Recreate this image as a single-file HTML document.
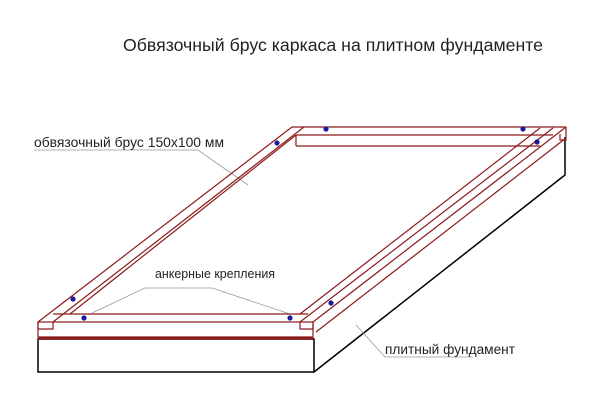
<!DOCTYPE html>
<html><head><meta charset="utf-8"><style>
html,body{margin:0;padding:0;background:#fff;width:600px;height:416px;overflow:hidden}
svg{display:block}
text{font-family:"Liberation Sans",sans-serif;fill:#222}
</style></head><body>
<svg width="600" height="416" viewBox="0 0 600 416">
<g stroke="#000" stroke-width="1.5" fill="none">
<rect x="38" y="339" width="276" height="33" fill="#fff"/>
<polyline points="314,372 565,175 565,137"/>
</g>
<g stroke="#999" stroke-width="0.8" fill="none">
<polyline points="34,150 198,150 248,185"/>
<polyline points="92,313 145,288 212,288 290,314"/>
<polyline points="356,325 385,357 473,357"/>
</g>
<g stroke="#8b1a1a" stroke-width="1.2" fill="none">
<rect x="38" y="322" width="275" height="15"/>
<line x1="38" y1="338.5" x2="313" y2="338.5" stroke-width="2.5"/>
<polyline points="53,314 308,314"/>
<polyline points="38,322 38,329 53,329 53,322"/>
<polyline points="313,322 313,329 300,329 300,322"/>
<line x1="38" y1="322" x2="292" y2="127"/>
<line x1="53" y1="322" x2="304" y2="127"/>
<line x1="70" y1="314" x2="296" y2="135"/>
<line x1="292" y1="127" x2="566" y2="127"/>
<line x1="296" y1="135" x2="553" y2="135"/>
<line x1="296" y1="146" x2="540" y2="146"/>
<line x1="296" y1="135" x2="296" y2="146"/>
<line x1="566" y1="127" x2="313" y2="322"/>
<line x1="553" y1="128" x2="300" y2="322"/>
<line x1="540" y1="128" x2="300" y2="314"/>
<line x1="566" y1="138" x2="316" y2="332"/>
<polyline points="566,127 566,140 560,140 560,134"/>
</g>
<g fill="#1a1a9a">
<circle cx="326" cy="129" r="2.6"/><circle cx="523" cy="129" r="2.6"/>
<circle cx="277" cy="143" r="2.6"/><circle cx="537" cy="142" r="2.6"/>
<circle cx="73" cy="299" r="2.6"/><circle cx="84" cy="318" r="2.6"/>
<circle cx="290" cy="318" r="2.6"/><circle cx="331" cy="303" r="2.6"/>
</g>
<text x="333" y="51" font-size="17.5" text-anchor="middle" textLength="420" lengthAdjust="spacingAndGlyphs">Обвязочный брус каркаса на плитном фундаменте</text>
<text x="34" y="147" font-size="13.5" textLength="190" lengthAdjust="spacingAndGlyphs">обвязочный брус 150х100 мм</text>
<text x="155" y="278" font-size="12.5" textLength="120" lengthAdjust="spacingAndGlyphs">анкерные крепления</text>
<text x="385" y="354" font-size="13.5" textLength="130" lengthAdjust="spacingAndGlyphs">плитный фундамент</text>
</svg>
</body></html>
